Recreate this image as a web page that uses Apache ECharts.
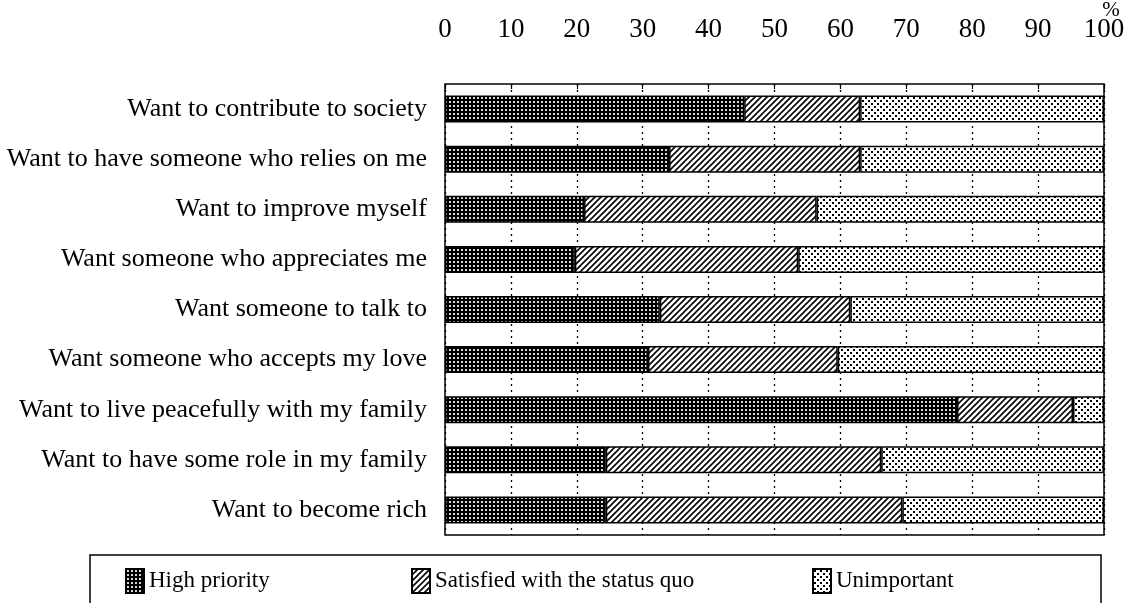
<!DOCTYPE html>
<html>
<head>
<meta charset="utf-8">
<script src="https://cdn.jsdelivr.net/npm/echarts@6/dist/echarts.min.js"></script>
<style>
html,body{margin:0;padding:0;background:#fff;}
#c{width:1134px;height:603px;}
</style>
</head>
<body>
<div id="c"></div>
<script>
const categories = [
  'Want to contribute to society',
  'Want to have someone who relies on me',
  'Want to improve myself',
  'Want someone who appreciates me',
  'Want someone to talk to',
  'Want someone who accepts my love',
  'Want to live peacefully with my family',
  'Want to have some role in my family',
  'Want to become rich'
];
const seriesNames = ['High priority', 'Satisfied with the status quo', 'Unimportant'];
const highPriority = [45.4, 34.0, 21.1, 19.7, 32.6, 30.8, 77.7, 24.4, 24.4];
const satisfied   = [17.6, 29.0, 35.3, 33.9, 28.9, 28.8, 17.6, 41.8, 45.0];
const unimportant = [37.0, 37.0, 43.6, 46.4, 38.5, 40.4, 4.7, 33.8, 30.6];
const xTicks = [0, 10, 20, 30, 40, 50, 60, 70, 80, 90, 100];
const unitLabel = '%';

function makePattern(kind) {
  const c = document.createElement('canvas');
  const ctx = c.getContext('2d');
  if (kind === 'dense') {
    c.width = 4; c.height = 4;
    ctx.fillStyle = '#000'; ctx.fillRect(0, 0, 4, 4);
    ctx.fillStyle = '#d8d8d8'; ctx.fillRect(1, 1, 2, 2);
  } else if (kind === 'hatch') {
    c.width = 6; c.height = 6;
    ctx.fillStyle = '#fff'; ctx.fillRect(0, 0, 6, 6);
    ctx.strokeStyle = '#000'; ctx.lineWidth = 1.6;
    ctx.beginPath();
    ctx.moveTo(-1, 7); ctx.lineTo(7, -1);
    ctx.moveTo(-4, 4); ctx.lineTo(4, -4);
    ctx.moveTo(2, 10); ctx.lineTo(10, 2);
    ctx.stroke();
  } else {
    c.width = 6; c.height = 6;
    ctx.fillStyle = '#fff'; ctx.fillRect(0, 0, 6, 6);
    ctx.fillStyle = '#000';
    ctx.fillRect(1, 1, 2, 2);
    ctx.fillRect(4, 4, 2, 2);
  }
  return { image: c, repeat: 'repeat' };
}
const patterns = [makePattern('dense'), makePattern('hatch'), makePattern('dots')];
const values = [highPriority, satisfied, unimportant];

const FONT = 'Liberation Serif';
const chart = echarts.init(document.getElementById('c'));
const legendLefts = [125, 411, 812];

chart.setOption({
  animation: false,
  backgroundColor: '#fff',
  grid: { left: 445, right: 30, top: 84, bottom: 68, show: true, borderColor: '#000', borderWidth: 1.5,
    backgroundColor: 'transparent', containLabel: false, outerBoundsMode: 'none' },
  xAxis: {
    type: 'value', position: 'top', min: 0, max: 100, interval: 10,
    axisLine: { show: false },
    axisTick: { show: true, inside: true, length: 5, lineStyle: { color: '#000', width: 1.2 } },
    axisLabel: { color: '#000', fontFamily: FONT, fontSize: 27, margin: 41,
      formatter: v => xTicks.indexOf(v) >= 0 ? String(v) : '' },
    splitLine: { show: true, lineStyle: { color: '#000', type: [2, 4], width: 1.3 } }
  },
  yAxis: {
    type: 'category', data: categories, inverse: true,
    axisLine: { show: false }, axisTick: { show: false },
    axisLabel: { color: '#000', fontFamily: FONT, fontSize: 26, margin: 18, padding: [7, 0, 0, 0] },
    splitLine: { show: false }
  },
  legend: seriesNames.map((n, i) => ({
    data: [{ name: n, icon: 'rect' }], left: legendLefts[i], top: 568, padding: 0,
    itemWidth: 18, itemHeight: 24, itemGap: 10,
    textStyle: { color: '#000', fontFamily: FONT, fontSize: 23 },
    selectedMode: false
  })),
  graphic: [{
    type: 'rect', shape: { x: 90, y: 555, width: 1011, height: 70 },
    style: { fill: 'none', stroke: '#000', lineWidth: 1.5 }, silent: true, z: -1
  }, {
    type: 'text', x: 1111, y: 10,
    style: { text: unitLabel, fill: '#000', font: '21px "Liberation Serif"', align: 'center', verticalAlign: 'middle' },
    silent: true
  }],
  series: seriesNames.map((n, i) => ({
    name: n, type: 'bar', stack: 'total', barWidth: 27,
    data: values[i],
    itemStyle: { color: patterns[i], borderColor: '#000', borderWidth: 1.5 },
    emphasis: { disabled: true }
  }))
});
</script>
</body>
</html>
